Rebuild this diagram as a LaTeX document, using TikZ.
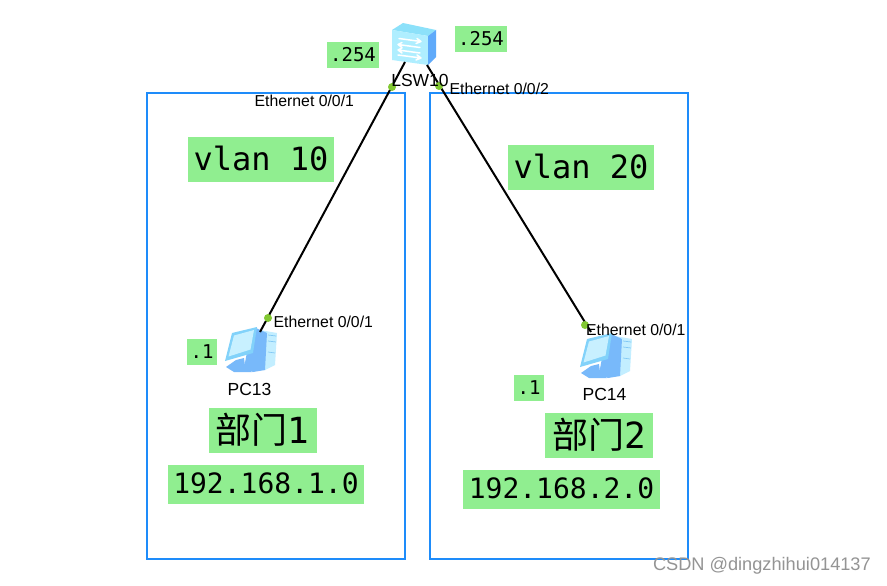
\documentclass[tikz,border=0pt]{standalone}
\usepackage{fontspec}
\setmainfont{Liberation Sans}
\newfontfamily\monof{DejaVu Sans Mono}
\newfontfamily\cjkf{Noto Sans CJK SC}
\begin{document}
\begin{tikzpicture}[x=1pt,y=-1pt,
  zone/.style={draw=zoneblue,line width=2pt,fill=none},
  tag/.style={fill=taggreen,inner sep=0pt,text=black,align=center,font=\monof\fontsize{#1}{#1}\selectfont},
  portlabel/.style={inner sep=0pt,anchor=west,text=black,font=\fontsize{15.8}{16}\selectfont},
  hostlabel/.style={inner sep=0pt,text=black,font=\fontsize{17.5}{18}\selectfont},
  port/.style={circle,fill=portgreen,inner sep=0pt,minimum size=8pt},
  link/.style={draw=black,line width=2pt},
  pc/.pic={
    \fill[towerbody] (28,-2) -- (45,1) -- (43,33) -- (33,38) -- (28,38) -- cycle;
    \draw[towerline,line width=.7pt] (36,3) -- (44,4) (36,9) -- (44,10) (36,20) -- (43,21);
    \fill[monside] (24,-4) -- (35,1) -- (33,38) -- (21,40) -- (12,36) -- (15,20) -- cycle;
    \fill[monside] (4,28) -- (12,26) -- (13,34) -- (20,40) -- (2,40) -- (-6,35) -- cycle;
    \fill[monedge] (0,1) -- (25,-5) -- (21,21) -- (-7,29) -- cycle;
    \fill[monglass] (2,3.5) -- (22,-2) -- (18.5,17.5) -- (-3.5,24.5) -- cycle;
  }
]
\definecolor{zoneblue}{RGB}{30,140,250}
\definecolor{taggreen}{RGB}{144,238,144}
\definecolor{portgreen}{RGB}{130,200,50}
\definecolor{towerbody}{RGB}{195,238,255}
\definecolor{towerline}{RGB}{130,200,245}
\definecolor{monside}{RGB}{120,185,250}
\definecolor{monedge}{RGB}{130,210,250}
\definecolor{monglass}{RGB}{200,240,255}
\definecolor{swtop}{RGB}{140,225,250}
\definecolor{swfront}{RGB}{175,238,255}
\definecolor{swside}{RGB}{95,170,250}
\useasboundingbox (0,0) rectangle (887,586);
\fill[white] (0,0) rectangle (887,586);

\node[zone,minimum width=258pt,minimum height=466pt,inner sep=0pt] (zoneA) at (276,326) {};
\node[zone,minimum width=258pt,minimum height=466pt,inner sep=0pt] (zoneB) at (559,326) {};

% switch icon
\fill[swtop] (392,30) -- (403,23) -- (436,30) -- (428,36) -- cycle;
\fill[swfront] (392,30) -- (428,36) -- (428,65) -- (392,60) -- cycle;
\fill[swside] (428,36) -- (436,30) -- (436,57) -- (428,65) -- cycle;
\draw[white,line width=1.5pt,line cap=round,line join=round]
  (399,38.5) -- (421,41.5) (417,38.5) -- (421,41.5) -- (416,43.5)
  (398,44.5) -- (420,47.5) (402,42.5) -- (398,44.5) -- (402,47.5)
  (398,50) -- (420,53) (402,48) -- (398,50) -- (402,53)
  (398,55) -- (421,58) (417,55) -- (421,58) -- (416,60);

\pic at (232,332) {pc};
\pic at (587,338) {pc};

\coordinate (swA) at (405,62);
\coordinate (swB) at (427,65);
\coordinate (pcA) at (260,332);
\coordinate (pcB) at (591,332);
\draw[link] (swA) -- (pcA);
\draw[link] (swB) -- (pcB);
\node[port] (p1) at (392,87) {};
\node[port] (p2) at (439,86) {};
\node[port] (p3) at (268,318) {};
\node[port] (p4) at (585,325) {};

\node[hostlabel] (lsw) at (420,80) {LSW10};
\node[portlabel] (e1) at (254.5,101) {Ethernet 0/0/1};
\node[portlabel] (e2) at (449.5,89) {Ethernet 0/0/2};
\node[portlabel] (e3) at (273.5,322) {Ethernet 0/0/1};
\node[portlabel] (e4) at (586,330) {Ethernet 0/0/1};
\node[hostlabel] (h1) at (249.5,389) {PC13};
\node[hostlabel] (h2) at (604.5,394) {PC14};

\node[tag=19,minimum width=52pt,minimum height=26pt] (t1) at (353,55) {.254};
\node[tag=19,minimum width=52pt,minimum height=26pt] (t2) at (481,39) {.254};
\node[tag=19,minimum width=30pt,minimum height=26pt] (t3) at (202,352) {.1};
\node[tag=19,minimum width=30pt,minimum height=26pt] (t4) at (529,388) {.1};
\node[tag=32,minimum width=146pt,minimum height=45pt] (v1) at (261,159) {\raisebox{2pt}{vlan 10}};
\node[tag=32,minimum width=146pt,minimum height=45pt] (v2) at (581,167) {\raisebox{2pt}{vlan 20}};
\node[tag=28,minimum width=196pt,minimum height=39pt] (n1) at (266,484) {\raisebox{1pt}{192.168.1.0}};
\node[tag=28,minimum width=197pt,minimum height=39pt] (n2) at (561.5,489) {\raisebox{1pt}{192.168.2.0}};
\node[tag=36,minimum width=108pt,minimum height=45pt] (d1) at (262.5,430) {{\cjkf 部门}1};
\node[tag=36,minimum width=108pt,minimum height=45pt] (d2) at (599,435) {{\cjkf 部门}2};

\node[inner sep=0pt,anchor=east,text=black!42,font=\fontsize{18.2}{18}\selectfont] (wm) at (871,566) {CSDN @dingzhihui014137};
\end{tikzpicture}
\end{document}
